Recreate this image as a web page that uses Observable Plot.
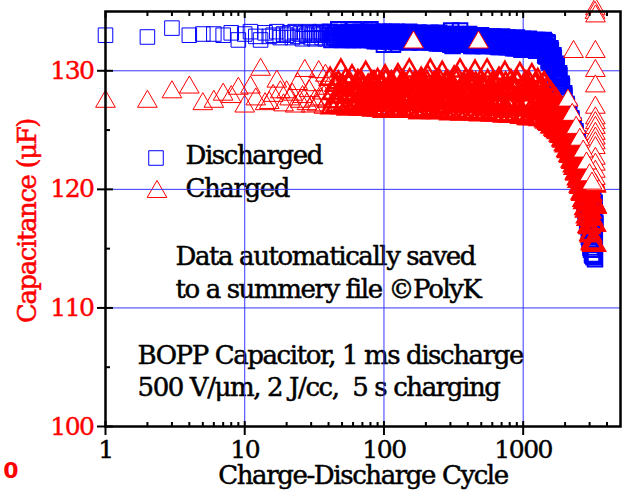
<!DOCTYPE html>
<html><head><meta charset="utf-8">
<script src="https://cdn.jsdelivr.net/npm/d3@7"></script>
<script src="https://cdn.jsdelivr.net/npm/@observablehq/plot@0.6"></script>
<style>
html,body{margin:0;padding:0;background:#fff;}
svg text{white-space:pre;}
g[font-size="26"]{letter-spacing:-1.4px;}
g[font-size="25"]{letter-spacing:-1.5px;}
</style></head><body>
<script>
// ---- data ----
// first pass of readings
const cycles = [
1,2,3,4,5,6,7,8,9,10,
11,12,13,14,15,16,17,18,19,20,
21,22,23,24,25,26,27,28,29,30,
31,32,33,34,35,36,37,38,39,40,
41,42,43,44,45,46,47,48,49,50,
51,52,53,55,56,58,59,61,62,64,
65,67,69,70,72,74,76,78,80,82,
84,86,88,90,92,95,97,100,102,105,
107,110,113,116,118,121,124,128,131,134,
137,141,144,148,152,155,159,163,167,172,
176,180,185,190,194,199,204,209,215,220,
226,231,237,243,249,255,262,268,275,282,
289,296,304,311,319,327,335,344,352,361,
370,379,389,399,409,419,429,440,451,462,
474,486,498,510,523,536,550,563,578,592,
607,622,638,653,670,686,704,721,739,758,
777,796,816,836,857,879,901,923,946,970,
994,1019,1045,1071,1098,1125,1153,1182,1212,1242,
1273,1305,1338,1371,1405,
1420,1440,1460,1480,1500,1520,1540,1560,1580,1600,
1620,1640,1660,1680,1700,1720,1740,1760,1780,1800,
1820,1840,1860,1880,1900,1920,1940,1960,1980,2000,
2020,2040,2060,2080,2100,2120,2140,2160,2180,2200,
2220,2240,2260,2280,2300,2320,2340,2360,2380,2400,
2420,2440,2460,2480,2500,2520,2540,2560,2580,2600,
2620,2640,2660,2680,2700,2720,2740,2760,2780,2800,
2820,2840,2860,2880,2900,2920,2940,2960,2980,3000,
3020,3040,3060,3080,3100,3120,3140,3160,3180,3200,
3220,3240,3260,3280,3300
];
const discharged = [
133.0,132.85,133.6,133.0,133.1,133.1,133.0,133.2,132.6,133.1,
133.3,132.9,132.6,133.2,132.9,133.0,133.3,132.8,133.1,133.0,
133.2,132.8,133.3,132.9,133.1,132.7,133.2,133.0,133.3,132.8,
133.1,132.7,133.2,133.0,133.3,132.8,133.1,132.7,133.2,133.0,
133.3,132.6,133.0,132.8,133.2,132.7,133.5,132.9,133.1,132.6,
133.2,132.7,133.0,133.3,132.6,133.1,132.8,133.5,132.7,133.0,
133.2,132.6,133.0,132.8,133.3,132.7,133.1,132.9,133.5,132.6,
133.2,132.5,133.0,132.8,133.3,132.6,133.1,132.2,133.2,132.7,
133.0,132.5,133.2,132.2,133.1,132.7,133.3,132.5,132.9,132.6,
133.2,132.5,133.0,132.7,133.3,132.4,133.1,132.6,132.9,132.5,
133.2,132.4,133.0,132.7,133.1,132.5,132.9,132.4,133.2,132.6,
133.1,132.4,132.9,132.6,133.2,132.3,133.0,132.5,133.1,132.4,
133.0,132.3,133.4,132.1,132.9,132.5,133.1,132.3,133.4,132.6,
133.0,132.2,132.9,132.5,133.1,132.3,132.8,132.1,133.0,132.4,
132.9,132.2,133.0,132.4,132.8,132.1,132.9,132.3,132.7,132.2,
132.9,132.1,132.8,132.3,132.7,132.0,132.9,132.2,132.6,132.0,
132.8,132.0,132.7,132.2,132.6,131.9,132.8,132.1,132.5,131.8,
132.7,131.8,132.6,132.0,132.7,131.8,132.5,131.9,132.6,131.7,
132.6,131.7,132.5,131.9,132.6,
132.5,131.3,132.0,131.5,132.3,130.8,131.6,131.0,131.7,130.3,
131.0,130.5,131.1,129.7,130.3,129.7,130.4,128.9,129.6,128.9,
129.6,128.1,128.7,128.1,128.7,127.2,127.9,127.2,127.9,126.3,
127.0,126.3,127.0,125.5,126.3,125.6,126.5,124.8,125.6,125.0,
125.9,124.1,125.0,124.3,125.3,123.3,124.4,123.6,124.7,122.5,
123.7,122.8,124.1,121.7,123.1,122.1,123.5,120.9,122.4,121.4,
123.0,120.0,121.7,120.6,122.4,119.1,121.0,119.7,121.8,118.2,
120.3,118.9,121.2,117.1,119.5,118.0,120.6,116.0,118.8,117.1,
120.0,115.1,118.1,116.4,119.6,114.5,117.7,116.0,119.2,114.3,
117.4,115.8,118.8,114.1,117.1
];
const charged = [
127.4,127.4,128.2,128.6,127.2,127.4,128.0,127.8,128.5,127.0,
128.6,127.6,130.1,127.2,127.3,127.9,129.1,128.2,127.1,128.2,
127.6,128.0,127.0,128.9,127.4,127.8,130.0,127.2,128.3,127.0,
128.8,127.5,127.1,129.9,127.6,128.1,126.9,129.6,127.4,128.5,
129.3,126.9,128.1,127.4,128.8,127.1,129.0,127.8,130.0,126.9,
128.6,127.2,129.2,126.8,128.0,127.5,129.5,126.9,128.4,127.3,
129.1,126.8,127.9,128.6,127.2,129.8,126.9,128.3,127.6,129.0,
126.7,128.5,127.3,129.2,126.8,127.9,128.8,126.6,129.5,127.4,
128.2,126.7,129.0,127.6,128.5,126.6,129.3,127.1,128.0,126.8,
129.1,127.3,128.6,126.6,130.0,127.8,128.3,126.7,129.0,127.2,
128.7,126.5,129.3,127.6,128.1,126.6,129.0,127.2,130.0,126.8,
128.4,127.5,129.1,126.5,128.7,127.0,129.8,126.6,128.2,127.4,
129.0,126.5,128.5,127.1,129.4,126.6,128.0,127.6,130.0,126.4,
128.6,127.0,129.2,126.5,128.2,127.5,129.0,126.4,129.9,127.1,
128.4,126.4,129.1,127.3,128.7,126.5,130.0,126.9,128.1,126.3,
129.0,126.8,128.5,126.3,129.3,127.4,128.1,126.3,129.8,126.7,
128.6,126.2,129.1,127.2,128.3,126.2,129.0,126.9,129.7,126.1,
128.5,126.1,129.0,127.0,128.2,126.0,129.6,126.6,128.8,126.0,
129.2,126.0,128.5,126.8,128.9,
128.9,125.8,127.7,126.6,128.4,125.6,127.3,126.3,128.1,125.3,
127.0,126.1,127.7,125.1,126.7,125.8,127.4,124.9,126.4,125.5,
127.0,124.6,126.1,125.2,126.7,124.2,125.7,124.8,126.3,123.8,
125.3,124.4,125.9,123.3,124.9,123.9,125.5,122.9,124.5,123.5,
125.1,122.4,124.0,123.1,124.7,122.0,123.6,122.6,124.3,121.4,
123.2,122.1,124.0,120.9,122.8,121.6,123.6,120.3,122.3,121.1,
123.2,119.7,121.9,120.6,122.9,119.1,121.4,120.0,122.5,118.4,
121.0,119.4,122.2,117.7,120.5,118.8,121.8,116.9,120.0,118.2,
121.4,116.2,119.5,117.6,121.1,115.5,119.0,117.1,120.7,115.3,
118.8,117.0,120.3,115.3,118.5
];
// second pass: readings at the cycles in between
const cycles2 = [
54,57,60,63,66,68,71,73,75,77,
79,81,83,85,87,89,91,93,96,99,
101,103,106,108,111,114,117,119,122,126,
129,132,135,139,142,146,150,153,157,161,
165,169,174,178,182,187,192,196,201,206,
212,217,223,228,234,240,246,252,258,265,
271,278,285,292,300,307,315,323,331,339,
348,356,365,374,384,394,404,414,424,434,
445,456,468,480,492,504,516,529,543,556,
570,585,600,614,630,645,661,678,695,712,
730,748,767,786,806,826,846,868,890,912,
934,958,982,1006,1032,1058,1084,1111,1139,1167,
1197,1227,1257,1289,1321,1354,1388,1412,
1430,1450,1470,1490,1510,1530,1550,1570,1590,1610,
1630,1650,1670,1690,1710,1730,1750,1770,1790,1810,
1830,1850,1870,1890,1910,1930,1950,1970,1990,2010,
2030,2050,2070,2090,2110,2130,2150,2170,2190,2210,
2230,2250,2270,2290,2310,2330,2350,2370,2390,2410,
2430,2450,2470,2490,2510,2530,2550,2570,2590,2610,
2630,2650,2670,2690,2710,2730,2750,2770,2790,2810,
2830,2850,2870,2890,2910,2930,2950,2970,2990,3010,
3030,3050,3070,3090,3110,3130,3150,3170,3190,3210,
3230,3250,3270,3290
];
const discharged2 = [
132.9,133.2,132.6,133.1,132.7,133.3,132.8,133.0,132.6,133.2,
132.9,133.3,132.6,133.0,132.8,133.2,132.5,133.1,132.7,133.3,
132.8,133.2,132.5,133.0,132.7,133.3,132.6,133.1,132.4,133.0,
132.7,133.2,132.5,133.0,132.6,133.2,132.4,132.9,132.7,133.1,
132.5,133.0,132.7,133.2,132.4,132.9,132.6,133.1,132.5,132.8,
133.1,132.4,132.9,132.6,133.0,132.3,132.8,133.1,132.5,132.9,
132.3,133.0,132.6,132.9,132.2,133.1,132.5,132.8,132.3,133.0,
132.5,132.8,132.2,133.0,132.4,132.9,132.3,132.7,132.1,132.9,
132.4,132.8,132.2,132.9,132.3,132.7,132.1,132.8,132.4,132.6,
132.2,132.8,132.1,132.7,132.3,132.6,132.0,132.8,132.2,132.5,
132.1,132.7,132.0,132.6,132.2,132.5,131.9,132.7,132.0,132.4,
131.9,132.6,131.8,132.5,132.1,132.4,131.8,132.6,131.9,132.3,
131.8,132.5,131.7,132.4,132.0,132.3,131.7,132.5,
131.8,132.1,131.2,132.4,131.4,131.7,130.7,131.9,130.9,131.2,
130.2,131.3,130.3,130.5,129.5,130.6,129.5,129.8,128.7,129.8,
128.7,128.9,127.9,128.9,127.9,128.1,127.0,128.1,127.0,127.2,
126.1,127.2,126.2,126.4,125.3,126.6,125.5,125.8,124.6,126.0,
124.8,125.2,123.9,125.4,124.1,124.5,123.1,124.9,123.4,123.9,
122.3,124.3,122.6,123.2,121.5,123.7,121.9,122.6,120.7,123.1,
121.2,121.9,119.8,122.5,120.4,121.2,118.9,121.9,119.5,120.5,
117.9,121.3,118.7,119.7,116.9,120.7,117.7,119.0,115.8,120.2,
116.9,118.3,114.9,119.7,116.2,117.8,114.4,119.3,116.0,117.5,
114.3,118.9,115.7,117.2
];
const charged2 = [
127.8,128.9,127.0,128.4,127.5,129.1,126.8,128.1,127.3,128.7,
127.1,128.3,126.8,129.0,127.6,128.0,126.7,128.8,127.4,128.2,
126.8,129.1,127.5,128.4,126.7,128.9,127.3,128.1,126.6,129.6,
127.5,128.4,126.7,128.9,127.2,128.0,126.6,129.2,127.7,128.5,
126.6,128.8,127.4,128.2,126.5,129.1,127.1,128.4,126.7,129.5,
127.3,128.0,126.5,128.9,127.5,128.3,126.6,129.1,127.0,128.5,
126.5,129.0,127.3,128.2,126.4,128.8,127.6,128.4,126.5,129.3,
127.2,128.1,126.4,128.9,127.4,128.3,126.5,129.0,127.0,128.6,
126.4,128.9,127.3,128.0,126.3,128.7,127.5,128.3,126.4,129.1,
127.1,128.2,126.3,128.8,127.3,128.0,126.3,129.0,126.9,128.4,
126.2,128.9,127.2,128.1,126.2,128.6,127.4,128.3,126.2,129.0,
126.9,128.0,126.1,128.7,127.1,128.3,126.0,128.9,126.7,128.2,
126.0,128.8,127.0,128.4,125.9,128.6,126.9,128.1,
126.9,127.8,125.7,128.5,126.5,127.4,125.5,128.1,126.3,127.1,
125.3,127.8,126.0,126.8,125.0,127.5,125.7,126.5,124.8,127.1,
125.5,126.2,124.5,126.8,125.1,125.8,124.1,126.4,124.7,125.4,
123.7,126.0,124.3,125.0,123.2,125.6,123.8,124.6,122.8,125.2,
123.4,124.1,122.3,124.8,123.0,123.7,121.8,124.4,122.5,123.3,
121.3,124.0,122.0,122.9,120.7,123.7,121.5,122.4,120.2,123.3,
121.0,122.0,119.6,123.0,120.5,121.6,118.9,122.6,119.9,121.1,
118.2,122.3,119.3,120.6,117.5,121.9,118.7,120.1,116.8,121.5,
118.1,119.6,116.1,121.1,117.5,119.1,115.4,120.8,117.1,118.8,
115.3,120.4,117.0,118.6
];
// scattered "Charged" readings that stand apart from the band
const outlierCycles = [163,478,2300,3300,3280,3310,3300,3300,3300,3300,3300,3300,3300,3300,3300,3300,3300,3300,3300,3300,3300,3300,2100,2250,2400,2550,2700,2850,3000,3120];
const outlierCharged = [132.4,132.4,131.6,135.2,134.9,134.6,131.6,130.0,128.7,126.9,126.0,125.6,125.2,124.7,124.3,123.9,123.5,122.6,122.1,121.5,120.9,120.4,127.5,126.3,125.2,124.2,123.2,122.2,121.2,120.5];

// axes
const xMajor = [1,10,100,1000];
const xTickLabels = ["1","10","100","1000"];
const xMinor = [2,3,4,5,6,7,8,9,20,30,40,50,60,70,80,90,200,300,400,500,600,700,800,900,2000,3000,4000];
const yMajor = [100,110,120,130];
const yTickLabels = ["100","110","120","130"];
const yMinor = [105,115,125];
const xTitle = "Charge-Discharge Cycle";
const yTitle = "Capacitance (μF)";
const legendLabels = ["Discharged","Charged"];
const noteLines = ["Data automatically saved","to a summery file ©PolyK","BOPP Capacitor, 1 ms discharge","500 V/μm, 2 J/cc,  5 s charging"];
const cornerLabel = "0";

// ---- chart ----
const W = 629, H = 492, mL = 105, mR = 9, mT = 11, mB = 66;
const pw = W - mL - mR, ph = H - mT - mB;
const idx1 = d3.range(Math.min(cycles.length, discharged.length, charged.length));
const idx2 = d3.range(Math.min(cycles2.length, discharged2.length, charged2.length));
if (cycles.length !== discharged.length || cycles.length !== charged.length) console.warn("pass 1 length mismatch", cycles.length, discharged.length, charged.length);
if (cycles2.length !== discharged2.length || cycles2.length !== charged2.length) console.warn("pass 2 length mismatch", cycles2.length, discharged2.length, charged2.length);
const oidx = d3.range(Math.min(outlierCycles.length, outlierCharged.length));
const serif = "DejaVu Serif";
const BLUE = "#0000ff", RED = "#ff0000", GRID = "#3535ff";
const SQ = 8.2, TRI = 7.3;
const sqWidth = c => (c > 40 ? 2 : 1);     // crowded part reads as a solid band
const triWidth = c => (c > 40 ? 2.5 : 1);
const txt = (s, o) => Plot.text([s], {text: d => d, textAnchor: "start", lineAnchor: "bottom", fontFamily: serif, fontSize: 26, fill: "#000", stroke: "#000", strokeWidth: 0.5, ...o});

const chart = Plot.plot({
  width: W, height: H,
  marginLeft: mL, marginRight: mR, marginTop: mT, marginBottom: mB,
  x: {type: "log", domain: [1, 5000], axis: null},
  y: {domain: [100, 135], axis: null},
  style: {background: "#fff", overflow: "visible"},
  marks: [
    // annotation text (under grid)
    txt(noteLines[0], {frameAnchor: "top-left", dx: 70, dy: 253.5}),
    txt(noteLines[1], {frameAnchor: "top-left", dx: 70, dy: 286}),
    txt(noteLines[2], {frameAnchor: "top-left", dx: 32, dy: 352}),
    txt(noteLines[3], {frameAnchor: "top-left", dx: 32, dy: 384}),
    // legend
    txt(legendLabels[0], {frameAnchor: "top-left", dx: 80, dy: 152}),
    txt(legendLabels[1], {frameAnchor: "top-left", dx: 80, dy: 185}),
    Plot.dot([0], {frameAnchor: "top-left", dx: 50.5, dy: 146.5, symbol: "square", r: SQ, stroke: BLUE, fill: "none", strokeWidth: 1}),
    Plot.dot([0], {frameAnchor: "top-left", dx: 51.5, dy: 180.3, symbol: "triangle", r: TRI, stroke: RED, fill: "none", strokeWidth: 1}),
    // grid
    Plot.ruleX(xMajor.slice(1), {x: d => d, stroke: GRID, strokeWidth: 1}),
    Plot.ruleY(yMajor.slice(1), {y: d => d, stroke: GRID, strokeWidth: 1}),
    // data: Discharged
    Plot.dot(idx1, {x: i => cycles[i], y: i => discharged[i], symbol: "square", r: SQ, stroke: BLUE, fill: "none", strokeWidth: i => sqWidth(cycles[i])}),
    Plot.dot(idx2, {x: i => cycles2[i], y: i => discharged2[i], symbol: "square", r: SQ, stroke: BLUE, fill: "none", strokeWidth: i => sqWidth(cycles2[i])}),
    // data: Charged
    Plot.dot(idx1, {x: i => cycles[i], y: i => charged[i], symbol: "triangle", r: TRI, stroke: RED, fill: "none", strokeWidth: i => triWidth(cycles[i])}),
    Plot.dot(idx2, {x: i => cycles2[i], y: i => charged2[i], symbol: "triangle", r: TRI, stroke: RED, fill: "none", strokeWidth: i => triWidth(cycles2[i])}),
    Plot.dot(oidx, {x: i => outlierCycles[i], y: i => outlierCharged[i], symbol: "triangle", r: TRI, stroke: RED, fill: "#fff", strokeWidth: 1}),
    // frame & ticks
    Plot.frame({stroke: "#000", strokeWidth: 2.5}),
    Plot.ruleY(yMajor, {y: d => d, insetLeft: -8, insetRight: pw - 8, stroke: "#000", strokeWidth: 2}),
    Plot.ruleY(yMinor, {y: d => d, insetLeft: 0, insetRight: pw - 5, stroke: "#000", strokeWidth: 2}),
    Plot.ruleX(xMajor, {x: d => d, insetTop: ph - 5, insetBottom: -9, stroke: "#000", strokeWidth: 2}),
    Plot.ruleX(xMinor, {x: d => d, insetTop: ph - 4, insetBottom: 0, stroke: "#000", strokeWidth: 2}),
    Plot.ruleX(xMajor, {x: d => d, insetTop: 0, insetBottom: ph - 7, stroke: "#000", strokeWidth: 2}),
    Plot.ruleX(xMinor, {x: d => d, insetTop: 0, insetBottom: ph - 5, stroke: "#000", strokeWidth: 2}),
    // tick labels
    Plot.text(yMajor, {y: d => d, text: (d, i) => yTickLabels[i], frameAnchor: "left", dx: -12, textAnchor: "end", lineAnchor: "middle", fill: RED, stroke: RED, strokeWidth: 0.4, fontFamily: serif, fontSize: 25}),
    Plot.text(xMajor, {x: d => d, text: (d, i) => xTickLabels[i], frameAnchor: "bottom", dy: 31, textAnchor: "middle", lineAnchor: "bottom", fill: "#000", stroke: "#000", strokeWidth: 0.4, fontFamily: serif, fontSize: 25}),
    // axis titles
    txt(xTitle, {frameAnchor: "bottom", dy: 57, textAnchor: "middle"}),
    txt(yTitle, {frameAnchor: "left", dx: -70, dy: 2, rotate: -90, textAnchor: "middle", fill: RED, stroke: RED}),
    Plot.text([cornerLabel], {text: d => d, frameAnchor: "bottom-left", dx: -94.5, dy: 51, textAnchor: "middle", lineAnchor: "bottom", fill: RED, fontFamily: "DejaVu Sans", fontWeight: "bold", fontSize: 22})
  ]
});
document.body.appendChild(chart);
</script>
</body></html>
